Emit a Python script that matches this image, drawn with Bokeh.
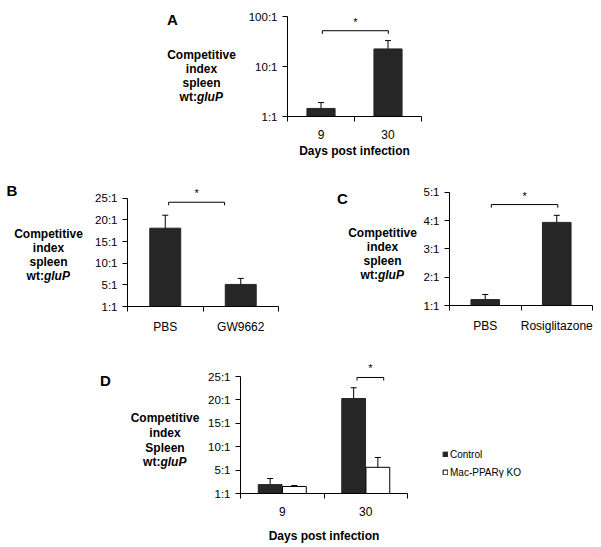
from bokeh.plotting import figure
from bokeh.models import (Range1d, FixedTicker, ColumnDataSource, Whisker, TeeHead,
                          Label, Legend, LegendItem)
from bokeh.core.properties import value
from bokeh.layouts import column, row
from bokeh.embed import file_html
from bokeh.resources import INLINE

FONT = "Liberation Sans"
BAR = "#262626"

# ---------------- data ----------------
a_days = ["9", "30"]
a_ci = [1.45, 22.5]
a_upper = [1.9, 33.0]
a_lower = [1.1, 16.0]
a_ticks = [1, 10, 100]
a_tick_labels = ["1:1", "10:1", "100:1"]
a_sig_level = 52.0
a_sig_leg = 45.0

b_groups = ["PBS", "GW9662"]
b_ci = [18.1, 5.1]
b_upper = [21.1, 6.5]
b_lower = [15.5, 3.9]
b_ticks = [0, 5, 10, 15, 20, 25]
b_tick_labels = ["1:1", "5:1", "10:1", "15:1", "20:1", "25:1"]
b_sig_level = 24.1
b_sig_leg = 23.4

c_groups = ["PBS", "Rosiglitazone"]
c_ci = [1.21, 3.94]
c_upper = [1.39, 4.19]
c_lower = [1.03, 3.76]
c_ticks = [1, 2, 3, 4, 5]
c_tick_labels = ["1:1", "2:1", "3:1", "4:1", "5:1"]
c_sig_level = 4.57
c_sig_leg = 4.46

d_days = ["9", "30"]
d_series = ["Control", "Mac-PPARγ KO"]
d_control = [1.9, 20.3]
d_control_upper = [3.2, 22.6]
d_control_lower = [0.6, 18.2]
d_ko = [1.5, 5.6]
d_ko_upper = [1.7, 7.7]
d_ko_lower = [1.3, 4.1]
d_ticks = [0, 5, 10, 15, 20, 25]
d_tick_labels = ["1:1", "5:1", "10:1", "15:1", "20:1", "25:1"]
d_sig_level = 24.8
d_sig_leg = 24.15

y_title_lines = ["Competitive", "index"]

CENTERS = [1, 3]          # category centres on a 0..4 axis
BOUNDS = [0, 2, 4]


def base_fig(width, height, left, right, top, bottom, x_range, y_range, y_type="linear",
             axes=True):
    kw = {}
    if not axes:
        kw = dict(x_axis_location=None, y_axis_location=None)
    p = figure(width=width, height=height, x_range=x_range, y_range=y_range,
               y_axis_type=y_type, output_backend="svg", toolbar_location=None,
               title=None, min_border_left=left, min_border_right=right,
               min_border_top=top, min_border_bottom=bottom, **kw)
    p.frame_align = False
    p.outline_line_color = None
    p.grid.visible = False
    p.background_fill_color = "white"
    p.border_fill_color = "white"
    for ax in p.axis:
        ax.axis_line_color = "black"
        ax.axis_line_width = 1
        ax.major_label_text_font = FONT
        ax.major_label_text_color = "black"
        ax.axis_label_text_font = FONT
        ax.axis_label_text_color = "black"
    return p


def style_axes(p, xlabels, yticks, ylabels):
    xa = p.xaxis[0]
    xa.ticker = FixedTicker(ticks=CENTERS, minor_ticks=BOUNDS)
    xa.major_label_overrides = {c: l for c, l in zip(CENTERS, xlabels)}
    xa.major_tick_line_color = None
    xa.major_tick_out = 0
    xa.major_tick_in = 0
    xa.minor_tick_line_color = "black"
    xa.minor_tick_out = 5
    xa.minor_tick_in = 0
    xa.major_label_text_font_size = "12px"
    xa.major_label_standoff = 8
    xa.bounds = (BOUNDS[0], BOUNDS[-1])
    ya = p.yaxis[0]
    ya.ticker = FixedTicker(ticks=yticks, minor_ticks=[])
    ya.major_label_overrides = {t: l for t, l in zip(yticks, ylabels)}
    ya.major_tick_out = 5
    ya.major_tick_in = 0
    ya.minor_tick_line_color = None
    ya.major_label_text_font_size = "11.5px"
    ya.major_label_standoff = 5
    ya.bounds = (yticks[0], yticks[-1])


def text_fig(x0, x1, y0, y1, letter, letter_xy, cx, ys, third):
    """A figure whose frame covers its whole canvas, in page pixel coordinates."""
    p = base_fig(x1 - x0, y1 - y0, 0, 0, 0, 0, Range1d(x0, x1), Range1d(y1, y0), axes=False)
    common = dict(text_font=value(FONT), text_color="black", text_baseline="middle")
    lines = y_title_lines + [third]
    p.text(x=[cx] * 3, y=ys[:3], text=lines, text_align="center",
           text_font_style="bold", text_font_size="12px", **common)
    split = cx - 4.6
    p.text(x=[split], y=[ys[3]], text=["wt:"], text_align="right",
           text_font_style="bold", text_font_size="12px", **common)
    p.text(x=[split], y=[ys[3]], text=["gluP"], text_align="left",
           text_font_style="bold italic", text_font_size="12px", **common)
    p.text(x=[letter_xy[0]], y=[letter_xy[1]], text=[letter], text_align="center",
           text_baseline="alphabetic", text_font=value(FONT), text_color="black",
           text_font_style="bold", text_font_size="15px")
    return p


def whiskers(p, xs, up, lo):
    src = ColumnDataSource(dict(x=xs, upper=up, lower=lo))
    p.add_layout(Whisker(source=src, base="x", upper="upper", lower="lower",
                         dimension="height", line_color="black", line_width=1,
                         upper_head=TeeHead(size=6, line_color="black", line_width=1),
                         lower_head=TeeHead(size=6, line_color="black", line_width=1)))


def bracket(p, x0, x1, level, leg):
    p.line([x0, x0, x1, x1], [leg, level, level, leg], line_color="black", line_width=1)
    p.add_layout(Label(x=(x0 + x1) / 2, y=level, x_units="data", y_units="data",
                       text="*", text_align="center", text_baseline="bottom",
                       y_offset=3, text_font=FONT, text_font_size="11px",
                       text_color="black"))


# ---------------- Row 1 : panel A  (page y 0..168) ----------------
ta = text_fig(0, 245, 0, 168, "A", (172, 18.5), 201, [54, 68, 82, 96], "spleen")
pa = base_fig(356, 168, 42, 180, 10, 52, Range1d(0, 4), Range1d(1, 132), "log")
style_axes(pa, a_days, a_ticks, a_tick_labels)
pa.vbar(x=CENTERS, top=a_ci, bottom=1, width=0.84, fill_color=BAR, line_color=BAR)
whiskers(pa, CENTERS, a_upper, a_lower)
bracket(pa, CENTERS[0] + 0.04, CENTERS[1] + 0.01, a_sig_level, a_sig_leg)
pa.xaxis.axis_label = "Days post infection"
pa.xaxis.axis_label_text_font_style = "bold"
pa.xaxis.axis_label_text_font_size = "12px"
pa.xaxis.axis_label_standoff = 2

# ---------------- Row 2 : panels B and C  (page y 168..350) ----------------
tb = text_fig(0, 85, 168, 350, "B", (11.5, 190), 48, [233, 247, 261, 275], "spleen")
pb = base_fig(215, 182, 42, 22, 16, 44, Range1d(0, 4), Range1d(0, 28.2))
style_axes(pb, b_groups, b_ticks, b_tick_labels)
pb.vbar(x=CENTERS, top=b_ci, bottom=0, width=0.82, fill_color=BAR, line_color=BAR)
whiskers(pb, CENTERS, b_upper, b_lower)
bracket(pb, CENTERS[0] + 0.09, CENTERS[1] - 0.43, b_sig_level, b_sig_leg)

tc = text_fig(300, 420, 168, 350, "C", (342, 198), 382, [232, 246, 260, 274], "spleen")
pc = base_fig(181, 182, 28, 9, 16, 45, Range1d(0, 4), Range1d(1, 5.28))
style_axes(pc, c_groups, c_ticks, c_tick_labels)
pc.vbar(x=CENTERS, top=c_ci, bottom=1, width=0.8, fill_color=BAR, line_color=BAR)
whiskers(pc, CENTERS, c_upper, c_lower)
bracket(pc, CENTERS[0] + 0.17, CENTERS[1] + 0.03, c_sig_level, c_sig_leg)

# ---------------- Row 3 : panel D  (page y 350..546) ----------------
td = text_fig(0, 205, 350, 546, "D", (105, 380), 164.5, [417, 432, 447, 461], "Spleen")
pd_ = base_fig(204, 196, 34, 2, 12, 53, Range1d(0, 4), Range1d(0, 28.0))
style_axes(pd_, d_days, d_ticks, d_tick_labels)
off = 0.29
xc = [c - off for c in CENTERS]
xk = [c + off for c in CENTERS]
pd_.vbar(x=xc, top=d_control, bottom=0, width=0.57, fill_color=BAR, line_color=BAR)
pd_.vbar(x=xk, top=d_ko, bottom=0, width=0.57, fill_color="white", line_color="black")
whiskers(pd_, xc, d_control_upper, d_control_lower)
whiskers(pd_, xk, d_ko_upper, d_ko_lower)
bracket(pd_, xc[1] + 0.08, xk[1] + 0.14, d_sig_level, d_sig_leg)
pd_.xaxis.axis_label = "Days post infection"
pd_.xaxis.axis_label_text_font_style = "bold"
pd_.xaxis.axis_label_text_font_size = "12px"
pd_.xaxis.axis_label_standoff = 10

# legend panel for D (same glyph styles as the bars; legend-only renderers lie off-range)
lg = base_fig(192, 196, 0, 0, 0, 0, Range1d(0, 1), Range1d(0, 1), axes=False)
lc = lg.vbar(x=[-5], top=[-5], width=0.5, fill_color=BAR, line_color=BAR)
lk = lg.vbar(x=[-5], top=[-5], width=0.5, fill_color="white", line_color="black")
legend = Legend(items=[LegendItem(label=d_series[0], renderers=[lc]),
                       LegendItem(label=d_series[1], renderers=[lk])],
                location=(33, 67), orientation="vertical", glyph_width=6, glyph_height=6,
                label_text_font=FONT, label_text_font_size="10px", label_text_color="black",
                label_height=14, padding=0, spacing=4, margin=0, border_line_color=None,
                background_fill_alpha=0, label_standoff=2)
lg.add_layout(legend)

layout = column(row(ta, pa), row(tb, pb, tc, pc), row(td, pd_, lg))
open("out.html", "w").write(file_html(layout, INLINE))
